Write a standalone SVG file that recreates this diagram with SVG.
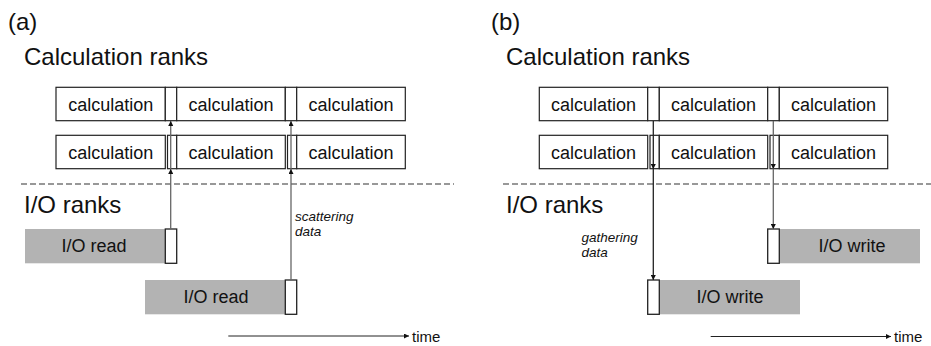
<svg xmlns="http://www.w3.org/2000/svg" width="931" height="346" viewBox="0 0 931 346">
<style>
text{font-family:"Liberation Sans",Arial,sans-serif;fill:#111}
.big{font-size:24px}
.lbl{font-size:18px;text-anchor:middle}
.it{font-size:13.5px;font-style:italic}
.calc{fill:#fff;stroke:#222;stroke-width:1.2}
.io{fill:#b3b3b3;stroke:none}
.sm{fill:#fff;stroke:#222;stroke-width:1.3}
.dash{stroke:#333;stroke-width:1.1;stroke-dasharray:6 3;fill:none}
.ga{stroke:#666;stroke-width:1.3;fill:none}
.da{stroke:#222;stroke-width:1.3;fill:none}
.ta{stroke:#222;stroke-width:1;fill:none}
</style>
<defs>
<marker id="ah" viewBox="0 0 6 6" refX="6" refY="3" markerWidth="5" markerHeight="5" markerUnits="userSpaceOnUse" orient="auto"><path d="M0,0L6,3L0,6z" fill="#111"/></marker>
</defs>

<g id="panel-a-labels">
<text class="big" x="8" y="30">(a)</text>
<text class="big" x="24" y="65">Calculation ranks</text>
<text class="big" x="24" y="213">I/O ranks</text>
<line class="dash" x1="21" y1="184" x2="454" y2="184"/>
</g>

<g id="a-row1">
<rect class="calc" x="56" y="87.3" width="109.3" height="33.4"/>
<rect class="calc" x="165.3" y="87.3" width="11.4" height="33.4"/>
<rect class="calc" x="176.7" y="87.3" width="108.6" height="33.4"/>
<rect class="calc" x="285.3" y="87.3" width="11.4" height="33.4"/>
<rect class="calc" x="296.7" y="87.3" width="108.6" height="33.4"/>
<text class="lbl" x="110.7" y="110.5">calculation</text>
<text class="lbl" x="231" y="110.5">calculation</text>
<text class="lbl" x="351" y="110.5">calculation</text>
</g>
<g id="a-row2">
<rect class="calc" x="56" y="135.3" width="109.3" height="33.4"/>
<rect class="calc" x="167.5" y="135.3" width="9.2" height="33.4"/>
<rect class="calc" x="176.7" y="135.3" width="108.6" height="33.4"/>
<rect class="calc" x="287.5" y="135.3" width="9.2" height="33.4"/>
<rect class="calc" x="296.7" y="135.3" width="108.6" height="33.4"/>
<text class="lbl" x="110.7" y="158.5">calculation</text>
<text class="lbl" x="231" y="158.5">calculation</text>
<text class="lbl" x="351" y="158.5">calculation</text>
</g>
<g id="a-io-read-1">
<rect class="io" x="25" y="229" width="140.3" height="34.3"/>
<rect class="sm" x="165.3" y="229" width="11.4" height="34.3"/>
<text class="lbl" x="94" y="252">I/O read</text>
</g>
<g id="a-io-read-2">
<rect class="io" x="145" y="280" width="140.3" height="34.3"/>
<rect class="sm" x="285.3" y="280" width="11.4" height="34.3"/>
<text class="lbl" x="216" y="303">I/O read</text>
</g>
<g id="a-note">
<text class="it" x="295" y="221">scattering</text>
<text class="it" x="295" y="236">data</text>
</g>

<g id="panel-b-labels">
<text class="big" x="491" y="30">(b)</text>
<text class="big" x="506" y="65">Calculation ranks</text>
<text class="big" x="506" y="213">I/O ranks</text>
<line class="dash" x1="503" y1="184" x2="931" y2="184"/>
</g>
<g id="b-row1">
<rect class="calc" x="539.3" y="87.3" width="108.4" height="33.4"/>
<rect class="calc" x="647.7" y="87.3" width="11.6" height="33.4"/>
<rect class="calc" x="659.3" y="87.3" width="108.4" height="33.4"/>
<rect class="calc" x="767.7" y="87.3" width="11.6" height="33.4"/>
<rect class="calc" x="779.3" y="87.3" width="108.4" height="33.4"/>
<text class="lbl" x="593.5" y="110.5">calculation</text>
<text class="lbl" x="713.5" y="110.5">calculation</text>
<text class="lbl" x="833.5" y="110.5">calculation</text>
</g>
<g id="b-row2">
<rect class="calc" x="539.3" y="135.3" width="108.4" height="33.4"/>
<rect class="calc" x="650" y="135.3" width="9.3" height="33.4"/>
<rect class="calc" x="659.3" y="135.3" width="108.4" height="33.4"/>
<rect class="calc" x="770" y="135.3" width="9.3" height="33.4"/>
<rect class="calc" x="779.3" y="135.3" width="108.4" height="33.4"/>
<text class="lbl" x="593.5" y="158.5">calculation</text>
<text class="lbl" x="713.5" y="158.5">calculation</text>
<text class="lbl" x="833.5" y="158.5">calculation</text>
</g>
<g id="b-io-write-1">
<rect class="io" x="779.3" y="229" width="140.7" height="34.3"/>
<rect class="sm" x="767.7" y="229" width="11.6" height="34.3"/>
<text class="lbl" x="852" y="252">I/O write</text>
</g>
<g id="b-io-write-2">
<rect class="io" x="659.3" y="280" width="140.7" height="34.3"/>
<rect class="sm" x="647.7" y="280" width="11.6" height="34.3"/>
<text class="lbl" x="730" y="303">I/O write</text>
</g>
<g id="b-note">
<text class="it" x="581.5" y="241.5">gathering</text>
<text class="it" x="581.5" y="256.5">data</text>
</g>

<g id="connectors">
<line class="ga" x1="170.7" y1="229" x2="170.7" y2="169" marker-end="url(#ah)"/>
<line class="ga" x1="170.7" y1="169" x2="170.7" y2="121" marker-end="url(#ah)"/>
<line class="ga" x1="291" y1="280" x2="291" y2="169" marker-end="url(#ah)"/>
<line class="ga" x1="291" y1="169" x2="291" y2="121" marker-end="url(#ah)"/>
<line class="da" x1="653.3" y1="121" x2="653.3" y2="169" marker-end="url(#ah)"/>
<line class="da" x1="653.3" y1="169" x2="653.3" y2="280" marker-end="url(#ah)"/>
<line class="ga" x1="773.3" y1="121" x2="773.3" y2="169" marker-end="url(#ah)"/>
<line class="ga" x1="773.3" y1="169" x2="773.3" y2="229" marker-end="url(#ah)"/>
<line class="ta" x1="228.3" y1="336" x2="409" y2="336" marker-end="url(#ah)"/>
<line class="ta" x1="710.7" y1="336.5" x2="891" y2="336.5" marker-end="url(#ah)"/>
</g>
<g id="time-labels">
<text x="412" y="341.5" font-size="15">time</text>
<text x="894" y="342" font-size="15">time</text>
</g>
</svg>
